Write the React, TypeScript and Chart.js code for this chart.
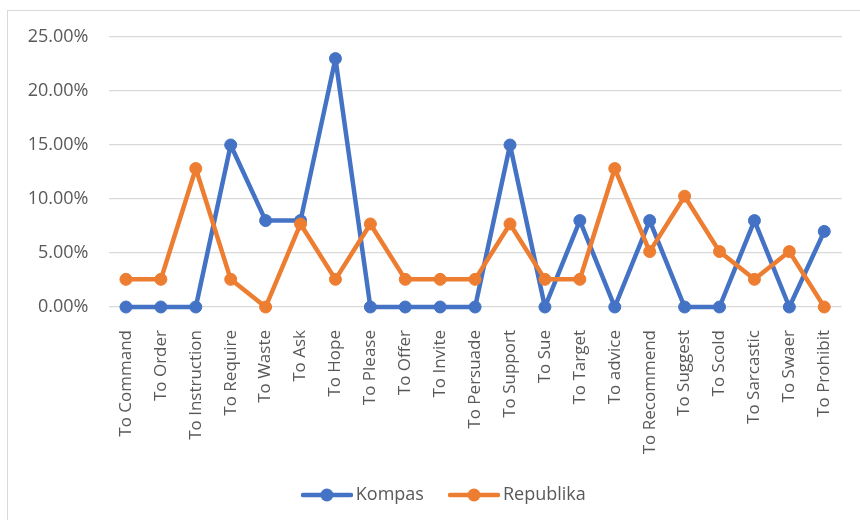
import React, { useEffect, useRef } from "react";
import { Chart, registerables } from "chart.js";

Chart.register(...registerables);

const categories = [
  "To Command", "To Order", "To Instruction", "To Require", "To Waste", "To Ask", "To Hope",
  "To Please", "To Offer", "To Invite", "To Persuade", "To Support", "To Sue", "To Target",
  "To advice", "To Recommend", "To Suggest", "To Scold", "To Sarcastic", "To Swaer", "To Prohibit",
];

const kompas = [0, 0, 0, 15, 8, 8, 23, 0, 0, 0, 0, 15, 0, 8, 0, 8, 0, 0, 8, 0, 7];
const republika = [
  2.56, 2.56, 12.82, 2.56, 0, 7.69, 2.56, 7.69, 2.56, 2.56, 2.56, 7.69, 2.56, 2.56,
  12.82, 5.13, 10.26, 5.13, 2.56, 5.13, 0,
];

const seriesNames = ["Kompas", "Republika"];
const seriesColors = ["#4472C4", "#ED7D31"];

function legendGlyph(color: string): HTMLCanvasElement {
  const c = document.createElement("canvas");
  c.width = 52;
  c.height = 14;
  const ctx = c.getContext("2d")!;
  ctx.strokeStyle = color;
  ctx.lineWidth = 4.5;
  ctx.lineCap = "round";
  ctx.beginPath();
  ctx.moveTo(2, 7);
  ctx.lineTo(50, 7);
  ctx.stroke();
  ctx.fillStyle = color;
  ctx.beginPath();
  ctx.arc(26, 7, 6.5, 0, Math.PI * 2);
  ctx.fill();
  return c;
}

const legendShift = {
  id: "legendShift",
  afterLayout(chart: any) {
    if (chart.legend) {
      chart.legend.left += 47;
    }
  },
};

export default function App() {
  const ref = useRef<HTMLCanvasElement | null>(null);

  useEffect(() => {
    if (!ref.current) return;
    Chart.defaults.font.family = "'Open Sans', sans-serif";
    const glyphs = seriesColors.map((c) => legendGlyph(c));
    const common = {
      borderWidth: 4.5,
      pointRadius: 6,
      pointBorderWidth: 1,
      tension: 0,
      clip: false as const,
      borderJoinStyle: "round" as const,
      borderCapStyle: "round" as const,
    };
    const chart = new Chart(ref.current, {
      type: "line",
      data: {
        labels: categories,
        datasets: [
          {
            label: seriesNames[0],
            data: kompas,
            borderColor: seriesColors[0],
            backgroundColor: seriesColors[0],
            pointBackgroundColor: seriesColors[0],
            pointBorderColor: seriesColors[0],
            order: 1,
            ...common,
          },
          {
            label: seriesNames[1],
            data: republika,
            borderColor: seriesColors[1],
            backgroundColor: seriesColors[1],
            pointBackgroundColor: seriesColors[1],
            pointBorderColor: seriesColors[1],
            order: 0,
            ...common,
          },
        ],
      },
      options: {
        responsive: false,
        animation: false,
        layout: { padding: { left: 0, right: 14.4, top: 37, bottom: 6 } },
        plugins: {
          tooltip: { enabled: false },
          legend: {
            position: "bottom",
            labels: {
              usePointStyle: true,
              pointStyleWidth: 40,
              padding: 30,
              color: "#595959",
              font: { size: 18 },
              generateLabels: () =>
                seriesNames.map((name, i) => ({
                  text: name,
                  pointStyle: glyphs[i],
                  fillStyle: seriesColors[i],
                  strokeStyle: seriesColors[i],
                  lineWidth: 0,
                  hidden: false,
                  datasetIndex: i,
                  fontColor: "#595959",
                })),
            },
          },
        },
        scales: {
          x: {
            offset: true,
            grid: { display: false },
            border: { display: false },
            ticks: {
              autoSkip: false,
              maxRotation: 90,
              minRotation: 90,
              padding: 15,
              color: "#595959",
              font: { size: 17 },
            },
            afterFit: (scale: any) => {
              scale.height = 149;
            },
          },
          y: {
            min: 0,
            max: 25,
            grid: { color: "#d9d9d9", lineWidth: 1.3, drawTicks: false },
            border: { display: false },
            ticks: {
              stepSize: 5,
              padding: 20,
              color: "#595959",
              font: { size: 18 },
              callback: (v: any) => Number(v).toFixed(2) + "%",
            },
            afterFit: (scale: any) => {
              scale.width = 108.5;
            },
          },
        },
      },
      plugins: [legendShift],
    });
    return () => chart.destroy();
  }, []);

  return (
    <div
      style={{
        position: "fixed",
        left: 0,
        top: 0,
        width: 860,
        height: 520,
        overflow: "hidden",
        background: "#fff",
      }}
    >
      <div
        style={{
          position: "absolute",
          left: 7,
          top: 10,
          width: 900,
          height: 560,
          border: "1px solid #d9d9d9",
          pointerEvents: "none",
        }}
      />
      <canvas
        ref={ref}
        width={860}
        height={520}
        style={{ position: "absolute", left: 0, top: 0, width: 860, height: 520 }}
      />
    </div>
  );
}
